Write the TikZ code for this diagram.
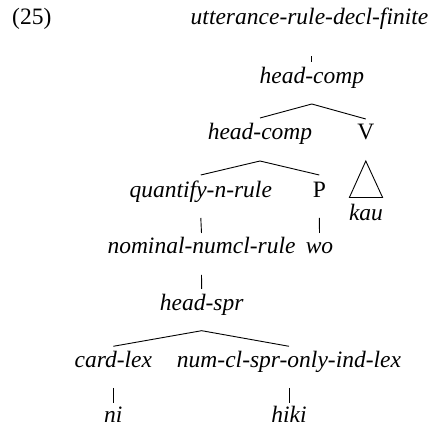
\documentclass[tikz,border=0pt]{standalone}
\usepackage{fontspec}
\setmainfont{Liberation Serif}
\begin{document}
\begin{tikzpicture}[x=1pt,y=1pt,
  lbl/.style={anchor=base,inner sep=0pt,font=\fontsize{23.5}{28}\selectfont\itshape},
  cat/.style={anchor=base,inner sep=0pt,font=\fontsize{23.5}{28}\selectfont},
  edge/.style={line width=0.9pt,line cap=butt}]
\useasboundingbox (0,0) rectangle (434,428);
\node[cat,anchor=base west] (ex) at (12,403) {(25)};
\node[lbl] (root) at (309.5,403) {utterance-rule-decl-finite};
\node[lbl] (hc1) at (311.8,344.7) {head-comp};
\node[lbl] (hc2) at (260,288) {head-comp};
\node[cat] (V) at (365.8,288) {V};
\node[lbl] (quant) at (200.8,230.7) {quantify-n-rule};
\node[cat] (P) at (319.3,230.7) {P};
\node[lbl] (kau) at (366,207) {kau};
\node[lbl] (nom) at (201.5,174.7) {nominal-numcl-rule};
\node[lbl] (wo) at (319.5,174.7) {wo};
\node[lbl] (hspr) at (201.7,117.3) {head-spr};
\node[lbl] (card) at (113.3,60.7) {card-lex};
\node[lbl] (num) at (289,60.7) {num-cl-spr-only-ind-lex};
\node[lbl] (ni) at (113.3,5.3) {ni};
\node[lbl] (hiki) at (289,5.3) {hiki};
% connectors
\draw[edge] ([yshift=-31.5pt]hc1.base |- root.base) -- ([yshift=21pt]hc1.base);
\draw[edge] ([yshift=22pt]hc2.base) -- ([yshift=-20.7pt]hc1.base) -- ([yshift=21pt]V.base);
\draw[edge] ([yshift=22.3pt]quant.base) -- ([yshift=-21pt]hc2.base) -- ([yshift=22.3pt]P.base);
\draw[edge] ([yshift=-21pt]V.base) -- ([xshift=-16.6pt,yshift=23.5pt]kau.base) -- ([xshift=16.6pt,yshift=23.5pt]kau.base) -- cycle;
\draw[edge] ([yshift=-20.7pt]quant.base) -- ([yshift=20.3pt]nom.base);
\draw[edge] ([yshift=-20.7pt]P.base) -- ([yshift=20.3pt]wo.base);
\draw[edge] ([yshift=-21.7pt]nom.base) -- ([yshift=21.7pt]hspr.base);
\draw[edge] ([yshift=21pt]card.base) -- ([yshift=-20pt]hspr.base) -- ([yshift=21pt]num.base);
\draw[edge] ([yshift=-20.7pt]card.base) -- ([yshift=19.7pt]ni.base);
\draw[edge] ([yshift=-20.7pt]num.base) -- ([yshift=19.7pt]hiki.base);
\end{tikzpicture}
\end{document}
